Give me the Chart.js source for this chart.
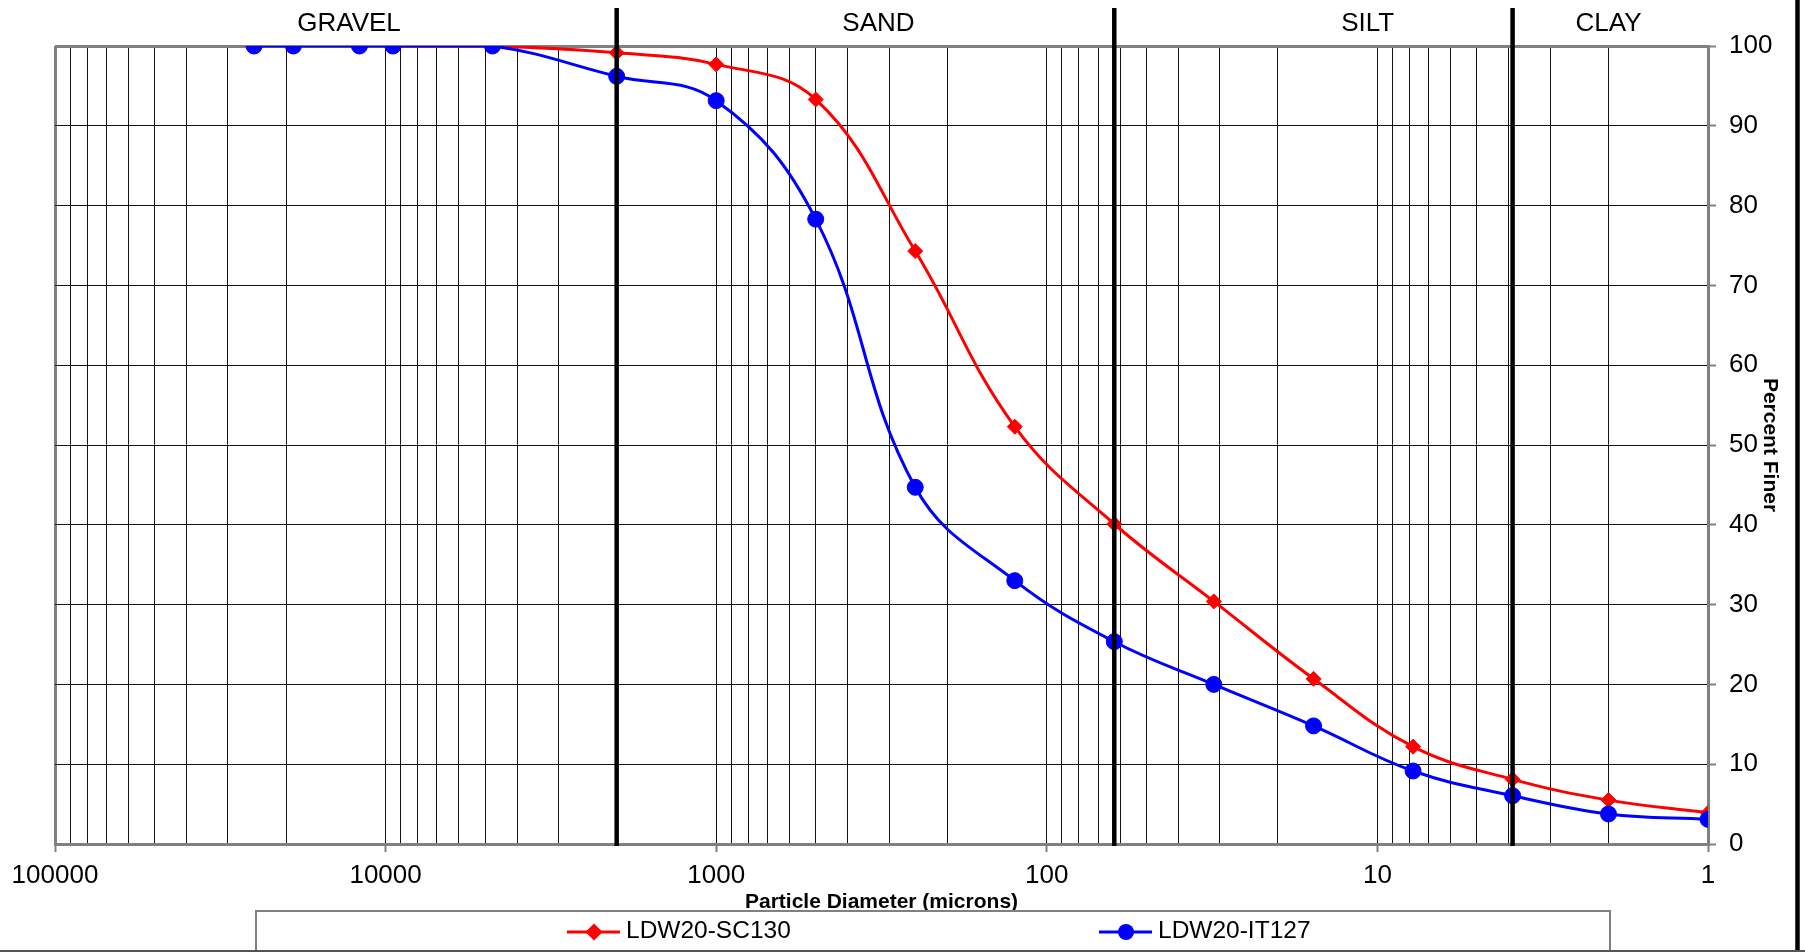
<!DOCTYPE html>
<html>
<head>
<meta charset="utf-8">
<title>Particle size distribution - LDW20</title>
<script src="https://cdn.jsdelivr.net/npm/chart.js@4.4.1/dist/chart.umd.min.js"></script>
<style>
  html, body { margin: 0; padding: 0; background: #fff; }
  canvas { display: block; }
</style>
</head>
<body>
<canvas id="psdChart" width="1805" height="952"></canvas>
<script>
// Grain size curves for two LDW20 samples (log x, reversed)
const FONT = "'Liberation Sans', Arial, sans-serif";

// LDW20-IT127 : diameter (microns) / percent finer
const itDiameters = [25000, 19000, 12000, 9500, 4750, 2000, 1000, 500, 250, 125, 62.5, 31.25, 15.6, 7.8, 3.9, 2, 1];
const itFiner = [100, 100, 100, 100, 100, 96.2, 93.15, 78.3, 44.7, 33.0, 25.35, 20.0, 14.8, 9.15, 6.05, 3.76, 3.09];

// LDW20-SC130
const scDiameters = [9500, 4750, 2000, 1000, 500, 250, 125, 62.5, 31.25, 15.6, 7.8, 3.9, 2, 1];
const scFiner = [100, 100, 99.15, 97.7, 93.3, 74.3, 52.3, 40.1, 30.4, 20.7, 12.2, 8.1, 5.5, 3.9];

// axis ticks
const decadeTicks = [1, 10, 100, 1000, 10000, 100000];
const minorSteps = [2, 3, 4, 5, 6, 7, 8, 9];
const percentTicks = [0, 10, 20, 30, 40, 50, 60, 70, 80, 90, 100];

// size classes: boundaries and label positions (microns)
const classBounds = [2000, 62.5, 3.9];
const classNames = ["GRAVEL", "SAND", "SILT", "CLAY"];
const classLabelAt = [12900, 323, 10.7, 2];

// every 1..9 x 10^n position gets a grid line, only decades get a label
const xTickValues = [];
decadeTicks.forEach(d => {
  xTickValues.push(d);
  if (d < 100000) minorSteps.forEach(m => xTickValues.push(m * d));
});
xTickValues.sort((a, b) => a - b);

const toPoints = (xs, ys) => xs.map((x, i) => ({ x: x, y: ys[i] }));

// decorations: class boundaries, class names, legend box, frame
const decorPlugin = {
  id: "decor",
  afterDatasetsDraw(chart) {
    const { ctx, chartArea, scales } = chart;
    ctx.save();
    ctx.strokeStyle = "#000";
    ctx.lineWidth = 4.5;
    classBounds.forEach(b => {
      const px = scales.x.getPixelForValue(b);
      ctx.beginPath();
      ctx.moveTo(px, 8);
      ctx.lineTo(px, chartArea.bottom + 2);
      ctx.stroke();
    });
    ctx.restore();
  },
  afterDraw(chart) {
    const { ctx, scales } = chart;
    ctx.save();

    // class names above the plot
    ctx.fillStyle = "#000";
    ctx.font = "26px " + FONT;
    ctx.textAlign = "center";
    ctx.textBaseline = "middle";
    classNames.forEach((name, i) => {
      ctx.fillText(name, scales.x.getPixelForValue(classLabelAt[i]), 24);
    });

    // legend box (cut by the bottom edge, as in the original)
    ctx.strokeStyle = "#808080";
    ctx.lineWidth = 2;
    ctx.strokeRect(256, 911, 1354, 60);

    const items = [
      { ds: chart.data.datasets[0], x0: 567 },
      { ds: chart.data.datasets[1], x0: 1099 }
    ];
    ctx.font = "24.5px " + FONT;
    ctx.textAlign = "left";
    items.forEach(it => {
      const y = 932;
      ctx.strokeStyle = it.ds.borderColor;
      ctx.lineWidth = 3;
      ctx.beginPath();
      ctx.moveTo(it.x0, y);
      ctx.lineTo(it.x0 + 53, y);
      ctx.stroke();
      const cx = it.x0 + 27;
      ctx.fillStyle = it.ds.borderColor;
      ctx.beginPath();
      if (it.ds.pointStyle === "rectRot") {
        const r = it.ds.pointRadius + 1;
        ctx.moveTo(cx, y - r);
        ctx.lineTo(cx + r, y);
        ctx.lineTo(cx, y + r);
        ctx.lineTo(cx - r, y);
        ctx.closePath();
      } else {
        ctx.arc(cx, y, it.ds.pointRadius, 0, Math.PI * 2);
      }
      ctx.fill();
      ctx.fillStyle = "#000";
      ctx.fillText(it.ds.label, it.x0 + 59, y - 1);
    });

    // outer frame pieces visible in the crop
    ctx.strokeStyle = "#000";
    ctx.lineWidth = 4.5;
    ctx.beginPath();
    ctx.moveTo(1797.5, 0);
    ctx.lineTo(1797.5, 952);
    ctx.stroke();
    ctx.strokeStyle = "#555";
    ctx.lineWidth = 2;
    ctx.beginPath();
    ctx.moveTo(0, 951);
    ctx.lineTo(1805, 951);
    ctx.stroke();

    ctx.restore();
  }
};

const isEdgeX = v => v === 1 || v === 100000;
const isEdgeY = v => v === 0 || v === 100;

new Chart(document.getElementById("psdChart"), {
  type: "line",
  data: {
    datasets: [
      {
        label: "LDW20-SC130",
        data: toPoints(scDiameters, scFiner),
        borderColor: "#ff0000",
        backgroundColor: "#ff0000",
        borderWidth: 3,
        pointStyle: "rectRot",
        pointRadius: 7.5,
        pointBorderWidth: 1,
        pointBorderColor: "#ff0000",
        tension: 0.4,
        order: 1
      },
      {
        label: "LDW20-IT127",
        data: toPoints(itDiameters, itFiner),
        borderColor: "#0000ff",
        backgroundColor: "#0000ff",
        borderWidth: 3,
        pointStyle: "circle",
        pointRadius: 8,
        pointBorderWidth: 1,
        pointBorderColor: "#0000ff",
        tension: 0.4,
        order: 0
      }
    ]
  },
  options: {
    responsive: false,
    animation: false,
    devicePixelRatio: 1,
    layout: { padding: { left: 55, top: 46, right: 0, bottom: 37 } },
    plugins: {
      legend: { display: false },
      tooltip: { enabled: false }
    },
    scales: {
      x: {
        type: "logarithmic",
        reverse: true,
        min: 1,
        max: 100000,
        afterBuildTicks: s => { s.ticks = xTickValues.map(v => ({ value: v })); },
        afterFit: s => { s.height = 71; },
        ticks: {
          autoSkip: false,
          maxRotation: 0,
          minRotation: 0,
          padding: 8,
          color: "#000",
          font: { family: FONT, size: 26 },
          callback: v => decadeTicks.includes(v) ? String(v) : ""
        },
        grid: {
          color: c => (c.tick && isEdgeX(c.tick.value)) ? "#808080" : "#111",
          lineWidth: c => (c.tick && isEdgeX(c.tick.value)) ? 3 : 1,
          tickLength: 8,
          tickWidth: 2,
          tickColor: c => (c.tick && decadeTicks.includes(c.tick.value)) ? "#808080" : "rgba(0,0,0,0)"
        },
        border: { color: "#808080", width: 3 },
        title: {
          display: true,
          text: "Particle Diameter (microns)",
          color: "#000",
          font: { family: FONT, size: 21, weight: "bold" },
          padding: { top: 0, bottom: 0 }
        }
      },
      y: {
        position: "right",
        min: 0,
        max: 100,
        afterBuildTicks: s => { s.ticks = percentTicks.map(v => ({ value: v })); },
        afterFit: s => { s.width = 97; },
        ticks: {
          padding: 13,
          color: "#000",
          font: { family: FONT, size: 26 }
        },
        grid: {
          color: c => (c.tick && isEdgeY(c.tick.value)) ? "#808080" : "#111",
          lineWidth: c => (c.tick && isEdgeY(c.tick.value)) ? 3 : 1,
          tickLength: 8,
          tickWidth: 2,
          tickColor: "#808080"
        },
        border: { color: "#808080", width: 3 },
        title: {
          display: true,
          text: "Percent Finer",
          color: "#000",
          font: { family: FONT, size: 21, weight: "bold" },
          padding: { top: 23, bottom: 0 }
        }
      }
    }
  },
  plugins: [decorPlugin]
});
</script>
</body>
</html>
